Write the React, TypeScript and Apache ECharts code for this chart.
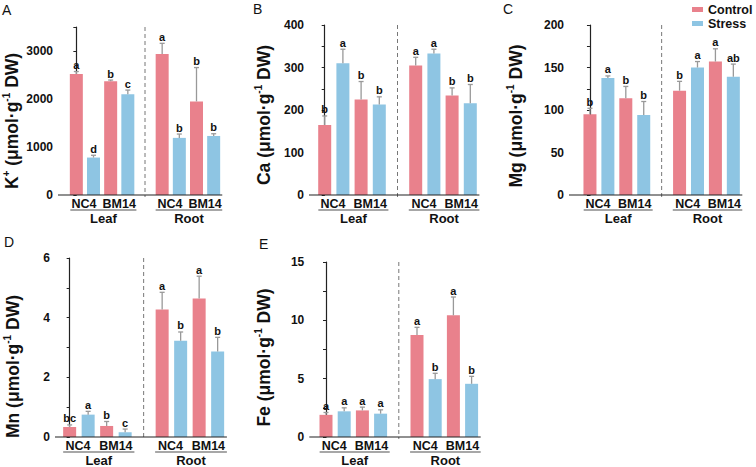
import React, { useEffect, useRef } from "react";
import * as echarts from "echarts";

const FONT = "Liberation Sans, Arial, sans-serif";
const PINK = "#E9818C";
const BLUE = "#8EC5E3";

const groups = ["NC4", "BM14"];
const tissues = ["Leaf", "Root"];
const legendNames = ["Control", "Stress"];
// order in every array: NC4-Leaf, BM14-Leaf, NC4-Root, BM14-Root
const kControl = [2520, 2370, 2940, 1950];
const kControlErr = [52, 25, 220, 705];
const kStress = [780, 2100, 1190, 1230];
const kStressErr = [48, 86, 80, 46];
const kControlLetters = ["a", "b", "a", "b"];
const kStressLetters = ["d", "c", "b", "b"];

const caControl = [165, 225, 305, 234];
const caControlErr = [21, 42, 19, 18];
const caStress = [310, 213, 333, 216];
const caStressErr = [33, 18, 10, 44];
const caControlLetters = ["b", "b", "a", "b"];
const caStressLetters = ["a", "b", "a", "b"];

const mgControl = [95, 113.7, 122.7, 157];
const mgControlErr = [7, 14, 11, 15];
const mgStress = [137.6, 94, 150, 139];
const mgStressErr = [2.5, 16, 7, 15];
const mgControlLetters = ["b", "b", "b", "a"];
const mgStressLetters = ["a", "b", "a", "ab"];

const mnControl = [0.335, 0.37, 4.27, 4.64];
const mnControlErr = [0.07, 0.15, 0.58, 0.75];
const mnStress = [0.75, 0.156, 3.23, 2.87];
const mnStressErr = [0.11, 0.11, 0.29, 0.47];
const mnControlLetters = ["bc", "b", "a", "a"];
const mnStressLetters = ["a", "c", "b", "b"];

const feControl = [1.9, 2.28, 8.75, 10.43];
const feControlErr = [0.2, 0.28, 0.65, 1.57];
const feStress = [2.2, 2.0, 4.96, 4.56];
const feStressErr = [0.3, 0.33, 0.5, 0.64];
const feControlLetters = ["a", "a", "a", "a"];
const feStressLetters = ["a", "a", "b", "b"];

// slot layout on the category axis (slot 4 is the gap holding the divider)
const controlSlots = [0, 2, 5, 7];
const stressSlots = [1, 3, 6, 8];
const groupCenters = [0.45, 2.5, 5.45, 7.5];
const tissueSpans = [
  [-0.35, 3.5],
  [4.62, 8.5],
];

const panels = [
  {
    tag: "A", element: "K", sup: "+",
    control: kControl, controlErr: kControlErr, stress: kStress, stressErr: kStressErr,
    controlLetters: kControlLetters, stressLetters: kStressLetters,
    max: 3500, tick: 500, labelStep: 1000,
    grid: { left: 64.75, top: 27, width: 157.5, height: 168 },
    axisOffset: 9.75, nameGap: 35, namePad: 20, tagPos: [2, 3],
  },
  {
    tag: "B", element: "Ca", sup: "",
    control: caControl, controlErr: caControlErr, stress: caStress, stressErr: caStressErr,
    controlLetters: caControlLetters, stressLetters: caStressLetters,
    max: 400, tick: 50, labelStep: 100,
    grid: { left: 315.6, top: 25, width: 163.8, height: 170 },
    axisOffset: 6.6, nameGap: 34, namePad: 10, tagPos: [253, 2],
  },
  {
    tag: "C", element: "Mg", sup: "",
    control: mgControl, controlErr: mgControlErr, stress: mgStress, stressErr: mgStressErr,
    controlLetters: mgControlLetters, stressLetters: mgStressLetters,
    max: 200, tick: 25, labelStep: 50,
    grid: { left: 581, top: 25, width: 161.3, height: 170 },
    axisOffset: 12, nameGap: 42, namePad: 12, tagPos: [503, 2],
  },
  {
    tag: "D", element: "Mn", sup: "",
    control: mnControl, controlErr: mnControlErr, stress: mnStress, stressErr: mnStressErr,
    controlLetters: mnControlLetters, stressLetters: mnStressLetters,
    max: 6, tick: 1, labelStep: 2,
    grid: { left: 60.4, top: 258, width: 166.5, height: 179 },
    axisOffset: 5.4, nameGap: 31, namePad: 38, tagPos: [4, 235],
  },
  {
    tag: "E", element: "Fe", sup: "",
    control: feControl, controlErr: feControlErr, stress: feStress, stressErr: feStressErr,
    controlLetters: feControlLetters, stressLetters: feStressLetters,
    max: 15, tick: 2.5, labelStep: 5,
    grid: { left: 316.9, top: 262, width: 163.8, height: 175 },
    axisOffset: 7.6, nameGap: 34, namePad: 16, tagPos: [259, 237],
  },
];

function buildOption() {
  const grid: any[] = [];
  const xAxis: any[] = [];
  const yAxis: any[] = [];
  const series: any[] = [];
  const graphic: any[] = [];
  const slotNames = Array.from({ length: 9 }, (_, i) => "s" + i);

  panels.forEach((p, pi) => {
    grid.push({ ...p.grid, containLabel: false });
    const catIdx = pi * 2;
    const valIdx = pi * 2 + 1;
    xAxis.push({
      gridIndex: pi, type: "category", data: slotNames,
      axisLine: { show: false }, axisTick: { show: false }, axisLabel: { show: false },
    });
    xAxis.push({ gridIndex: pi, type: "value", min: -0.5, max: 8.5, show: false });

    const name =
      `{t|${p.element}}` + (p.sup ? `{s|${p.sup}}` : "") + "{t| (μmol·g}{s|-1}{t| DW)}";
    yAxis.push({
      gridIndex: pi, type: "value", min: 0, max: p.max, interval: p.tick,
      offset: p.axisOffset,
      name, nameLocation: "middle", nameGap: p.nameGap,
      nameTextStyle: {
        padding: [0, p.namePad, 0, 0],
        rich: {
          t: { fontSize: 17.5, fontWeight: "bold", fontFamily: FONT, color: "#111", lineHeight: 22 },
          s: { fontSize: 10, fontWeight: "bold", fontFamily: FONT, color: "#111", verticalAlign: "top" },
        },
      },
      axisLine: { show: true, lineStyle: { color: "#222", width: 1.2 } },
      axisTick: { show: true, length: 3, lineStyle: { color: "#222", width: 1 } },
      axisLabel: {
        fontSize: 12, fontWeight: "bold", color: "#111", fontFamily: FONT, margin: 5,
        formatter: (v: number) => (Math.abs(v / p.labelStep - Math.round(v / p.labelStep)) < 1e-9 ? String(v) : ""),
      },
      splitLine: { show: false },
    });

    const ctrlData: any[] = slotNames.map(() => "-");
    const strData: any[] = slotNames.map(() => "-");
    controlSlots.forEach((s, i) => (ctrlData[s] = p.control[i]));
    stressSlots.forEach((s, i) => (strData[s] = p.stress[i]));
    series.push({
      type: "bar", name: legendNames[0], xAxisIndex: catIdx, yAxisIndex: pi,
      data: ctrlData, barWidth: 13, barGap: "-100%", itemStyle: { color: PINK }, z: 2,
    });
    series.push({
      type: "bar", name: legendNames[1], xAxisIndex: catIdx, yAxisIndex: pi,
      data: strData, barWidth: 13, barGap: "-100%", itemStyle: { color: BLUE }, z: 2,
    });

    const errItems: { slot: number; value: number; err: number; letter: string }[] = [];
    for (let i = 0; i < 4; i++) {
      errItems.push({ slot: controlSlots[i], value: p.control[i], err: p.controlErr[i], letter: p.controlLetters[i] });
      errItems.push({ slot: stressSlots[i], value: p.stress[i], err: p.stressErr[i], letter: p.stressLetters[i] });
    }
    series.push({
      type: "custom", xAxisIndex: valIdx, yAxisIndex: pi, clip: false, z: 5, silent: true,
      data: errItems.map((d) => [d.slot, d.value]),
      renderItem: (params: any, api: any) => {
        const d = errItems[params.dataIndex];
        const b = api.coord([d.slot, d.value]);
        const t = api.coord([d.slot, d.value + d.err]);
        return {
          type: "group",
          children: [
            { type: "line", shape: { x1: b[0], y1: b[1], x2: t[0], y2: t[1] }, style: { stroke: "#999", lineWidth: 1.3 } },
            { type: "line", shape: { x1: t[0] - 2.5, y1: t[1], x2: t[0] + 2.5, y2: t[1] }, style: { stroke: "#999", lineWidth: 1.3 } },
            {
              type: "text", x: t[0], y: t[1] - 1,
              style: { text: d.letter, align: "center", verticalAlign: "bottom", fontSize: 11, fontWeight: "bold", fontFamily: FONT, fill: "#111" },
            },
          ],
        };
      },
    });

    // baseline (x axis line) starting at the offset y-axis
    series.push({
      type: "custom", xAxisIndex: valIdx, yAxisIndex: pi, clip: false, z: 6, silent: true,
      data: [[0, 0]],
      renderItem: (params: any, api: any) => {
        const cs = params.coordSys;
        const y = api.coord([0, 0])[1];
        return {
          type: "line",
          shape: { x1: cs.x - p.axisOffset, y1: y, x2: cs.x + cs.width, y2: y },
          style: { stroke: "#222", lineWidth: 1.2 },
        };
      },
    });

    // divider
    series.push({
      type: "custom", xAxisIndex: valIdx, yAxisIndex: pi, clip: false, z: 1, silent: true,
      data: [[4, 0]],
      renderItem: (params: any, api: any) => {
        const cs = params.coordSys;
        const b = api.coord([4, 0]);
        return {
          type: "line",
          shape: { x1: b[0], y1: cs.y, x2: b[0], y2: b[1] + 2 },
          style: { stroke: "#777", lineWidth: 1, lineDash: [4, 3] },
        };
      },
    });

    // group labels
    series.push({
      type: "custom", xAxisIndex: valIdx, yAxisIndex: pi, clip: false, z: 6, silent: true,
      data: groupCenters.map((c) => [c, 0]),
      renderItem: (params: any, api: any) => {
        const c = api.coord([groupCenters[params.dataIndex], 0]);
        return {
          type: "text", x: c[0], y: c[1] + 8.5,
          style: { text: groups[params.dataIndex % 2], align: "center", verticalAlign: "middle", fontSize: 12.5, fontWeight: "bold", fontFamily: FONT, fill: "#111" },
        };
      },
    });

    // tissue underline + label
    series.push({
      type: "custom", xAxisIndex: valIdx, yAxisIndex: pi, clip: false, z: 6, silent: true,
      data: tissueSpans.map((s) => [(s[0] + s[1]) / 2, 0]),
      renderItem: (params: any, api: any) => {
        const s = tissueSpans[params.dataIndex];
        const a = api.coord([s[0], 0]);
        const b = api.coord([s[1], 0]);
        return {
          type: "group",
          children: [
            { type: "line", shape: { x1: a[0], y1: a[1] + 15, x2: b[0], y2: b[1] + 15 }, style: { stroke: "#8a8a8a", lineWidth: 1.5 } },
            {
              type: "text", x: (a[0] + b[0]) / 2, y: a[1] + 23,
              style: { text: tissues[params.dataIndex], align: "center", verticalAlign: "middle", fontSize: 13, fontWeight: "bold", fontFamily: FONT, fill: "#111" },
            },
          ],
        };
      },
    });

    graphic.push({
      type: "text", left: p.tagPos[0], top: p.tagPos[1],
      style: { text: p.tag, fontSize: 14, fontFamily: FONT, fill: "#111" },
    });
  });

  return {
    animation: false,
    textStyle: { fontFamily: FONT },
    legend: {
      data: legendNames, orient: "vertical", left: 692, top: 3, padding: 0,
      icon: "rect", itemWidth: 11, itemHeight: 5, itemGap: 1,
      textStyle: { fontSize: 12.5, fontWeight: "bold", color: "#111", fontFamily: FONT },
      selectedMode: false,
    },
    grid, xAxis, yAxis, series, graphic,
  };
}

export default function App() {
  const ref = useRef<HTMLDivElement>(null);
  useEffect(() => {
    document.body.style.margin = "0";
    const chart = echarts.init(ref.current!, null, { renderer: "svg" });
    chart.setOption(buildOption() as any);
    return () => chart.dispose();
  }, []);
  return <div ref={ref} style={{ width: 756, height: 467 }} />;
}
